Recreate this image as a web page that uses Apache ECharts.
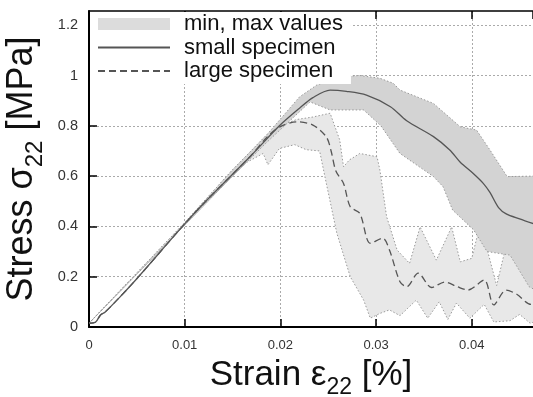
<!DOCTYPE html>
<html>
<head>
<meta charset="utf-8">
<script src="https://cdn.jsdelivr.net/npm/echarts@6/dist/echarts.min.js"></script>
<style>html,body{margin:0;padding:0;background:#fff}#c{width:533px;height:397px}</style>
</head>
<body>
<div id="c"></div>
<script>
// ---- data (strain [%], stress [MPa]) ----
var xTicks = [0, 0.01, 0.02, 0.03, 0.04];
var yTicks = [0, 0.2, 0.4, 0.6, 0.8, 1, 1.2];

var smallMean = [[0,0.015],[0.0007,0.02],[0.0012,0.048],[0.0017,0.06],[0.0031,0.114],[0.0049,0.188],[0.01,0.41],[0.0122,0.50],[0.0169,0.68],[0.0199,0.80],[0.022,0.87],[0.0234,0.912],[0.0252,0.942],[0.0269,0.937],[0.029,0.922],[0.0315,0.876],[0.0332,0.82],[0.036,0.757],[0.0377,0.704],[0.0388,0.655],[0.0401,0.612],[0.0412,0.571],[0.0419,0.535],[0.0428,0.475],[0.0436,0.45],[0.045,0.43],[0.0465,0.41]];

var largeMean = [[0,0.015],[0.0007,0.02],[0.0012,0.048],[0.0017,0.06],[0.0031,0.114],[0.0049,0.188],[0.01,0.41],[0.0122,0.50],[0.0169,0.68],[0.0186,0.755],[0.0199,0.795],[0.0217,0.816],[0.0234,0.803],[0.0248,0.756],[0.0253,0.70],[0.0258,0.62],[0.0266,0.571],[0.0273,0.478],[0.0283,0.452],[0.0294,0.333],[0.0307,0.353],[0.0314,0.306],[0.0325,0.18],[0.0332,0.16],[0.0344,0.214],[0.0358,0.157],[0.0372,0.179],[0.0385,0.16],[0.0396,0.147],[0.0413,0.187],[0.0423,0.088],[0.0436,0.147],[0.0447,0.13],[0.0462,0.09],[0.0465,0.09]];

var smallMax = [[0,0.015],[0.01,0.415],[0.015,0.625],[0.0186,0.765],[0.022,0.915],[0.0238,0.962],[0.0262,0.995],[0.0283,1.0],[0.0304,0.989],[0.0318,0.969],[0.0325,0.942],[0.036,0.889],[0.0388,0.796],[0.0405,0.783],[0.0419,0.704],[0.0437,0.598],[0.0465,0.6]];
var smallMin = [[0,0.015],[0.01,0.405],[0.015,0.60],[0.0186,0.735],[0.0231,0.895],[0.0252,0.863],[0.0287,0.863],[0.0305,0.80],[0.0325,0.69],[0.036,0.598],[0.037,0.558],[0.038,0.465],[0.0402,0.386],[0.0416,0.30],[0.044,0.286],[0.046,0.16],[0.0465,0.15]];

var largeMax = [[0,0.015],[0.01,0.415],[0.015,0.625],[0.0186,0.765],[0.0199,0.80],[0.0217,0.825],[0.0234,0.835],[0.0252,0.85],[0.0262,0.744],[0.0266,0.637],[0.0272,0.664],[0.0283,0.69],[0.0301,0.677],[0.0304,0.624],[0.0311,0.439],[0.0322,0.306],[0.0335,0.253],[0.0346,0.398],[0.0363,0.266],[0.0379,0.398],[0.0388,0.259],[0.04,0.273],[0.0409,0.412],[0.0426,0.165],[0.044,0.39],[0.0459,0.20],[0.0465,0.22]];
var largeMin = [[0,0.015],[0.01,0.405],[0.015,0.60],[0.0165,0.655],[0.0182,0.69],[0.0187,0.645],[0.0199,0.71],[0.0215,0.725],[0.0227,0.705],[0.0241,0.70],[0.0248,0.571],[0.0259,0.373],[0.0273,0.2],[0.0287,0.107],[0.0294,0.035],[0.0304,0.054],[0.0314,0.068],[0.0325,0.045],[0.0342,0.107],[0.0354,0.035],[0.0366,0.1],[0.0375,0.03],[0.0384,0.095],[0.0398,0.035],[0.0413,0.09],[0.0423,0.02],[0.044,0.025],[0.045,0.05],[0.0461,0.015],[0.0465,0.02]];

var legendNames = ['min, max values', 'small specimen', 'large specimen'];

// ---- chart ----
var FONT = '"Liberation Sans", Arial, sans-serif';
var chart = echarts.init(document.getElementById('c'), null, {renderer: 'canvas'});

function bandSeries(name, upper, lower, fill) {
  return {
    name: name,
    type: 'custom',
    coordinateSystem: 'cartesian2d',
    clip: true,
    silent: true,
    data: [[0, 0]],
    renderItem: function (params, api) {
      var pts = upper.map(function (p) { return api.coord(p); })
        .concat(lower.slice().reverse().map(function (p) { return api.coord(p); }));
      return {
        type: 'polygon',
        shape: {points: pts},
        style: {fill: fill, stroke: '#9a9a9a', lineWidth: 1, lineDash: [1.5, 2]}
      };
    }
  };
}

function richSub(size, pad) {
  return {sub: {fontSize: size, fontFamily: FONT, color: '#111', padding: [pad, 0, 0, 0], verticalAlign: 'bottom'}};
}
var hiddenSymbol = {color: 'rgba(0,0,0,0)', opacity: 0, borderWidth: 0};

chart.setOption({
  animation: false,
  backgroundColor: '#fff',
  grid: {left: 89, right: 0, top: 11, bottom: 70, containLabel: false, outerBoundsMode: 'none'},
  legend: {
    data: [
      {name: legendNames[0], icon: 'rect', itemStyle: {color: '#dcdcdc', borderWidth: 0}},
      {name: legendNames[1], itemStyle: hiddenSymbol},
      {name: legendNames[2], itemStyle: hiddenSymbol}
    ],
    orient: 'vertical',
    left: 90, top: 12,
    padding: [1, 8, 2, 7],
    itemWidth: 72, itemHeight: 12, itemGap: 1.5,
    backgroundColor: '#fff',
    selectedMode: false,
    textStyle: {fontSize: 22, fontFamily: FONT, color: '#111', padding: [0, 0, 0, 9]}
  },
  xAxis: [{
    type: 'value', min: 0, max: 0.0464, interval: 0.01,
    position: 'bottom',
    name: 'Strain ε{sub|22} [%]', nameLocation: 'middle', nameGap: 24,
    nameTextStyle: {fontSize: 35, fontFamily: FONT, color: '#111', rich: richSub(23, 25)},
    axisLine: {show: true, onZero: false, lineStyle: {color: '#000', width: 2}},
    axisTick: {show: true, inside: true, length: 8, lineStyle: {color: '#000', width: 1.5}},
    axisLabel: {fontSize: 13, fontFamily: FONT, color: '#333', margin: 12, showMaxLabel: false,
      formatter: function (v) { return xTicks.indexOf(+v.toFixed(4)) >= 0 ? String(+v.toFixed(4)) : ''; }},
    splitLine: {show: true, showMinLine: false, showMaxLine: false, lineStyle: {color: '#aaa', width: 1, type: [2, 2]}}
  }, {
    type: 'value', min: 0, max: 0.0464, interval: 0.01,
    position: 'top',
    axisLine: {show: true, onZero: false, lineStyle: {color: '#000', width: 1.5}},
    axisTick: {show: true, inside: true, length: 8, lineStyle: {color: '#000', width: 1.5}},
    axisLabel: {show: false},
    splitLine: {show: false}
  }],
  yAxis: [{
    type: 'value', min: 0, max: 1.2565, interval: 0.2,
    name: 'Stress σ{sub|22} [MPa]', nameLocation: 'middle', nameGap: 42,
    nameTextStyle: {fontSize: 36, fontFamily: FONT, color: '#111', rich: richSub(24, 26)},
    axisLine: {show: true, onZero: false, lineStyle: {color: '#000', width: 2}},
    axisTick: {show: true, inside: true, length: 8, lineStyle: {color: '#000', width: 1.5}},
    axisLabel: {fontSize: 14.5, fontFamily: FONT, color: '#333', margin: 11, showMaxLabel: false,
      formatter: function (v) { return yTicks.indexOf(+v.toFixed(2)) >= 0 ? String(+v.toFixed(2)) : ''; }},
    splitLine: {show: true, showMinLine: false, showMaxLine: false, lineStyle: {color: '#aaa', width: 1, type: [2, 2]}}
  }],
  series: [
    bandSeries('large band', largeMax, largeMin, '#e8e8e8'),
    bandSeries(legendNames[0], smallMax, smallMin, '#d3d3d3'),
    {
      name: legendNames[1], type: 'line', data: smallMean, symbol: 'none', smooth: 0.3,
      lineStyle: {color: '#555', width: 1.3, type: 'solid'}, itemStyle: {color: '#555'}, z: 3
    },
    {
      name: legendNames[2], type: 'line', data: largeMean, symbol: 'none', smooth: 0.3,
      lineStyle: {color: '#555', width: 1.3, type: [7, 4]}, itemStyle: {color: '#555'}, z: 3
    }
  ]
});
</script>
</body>
</html>
